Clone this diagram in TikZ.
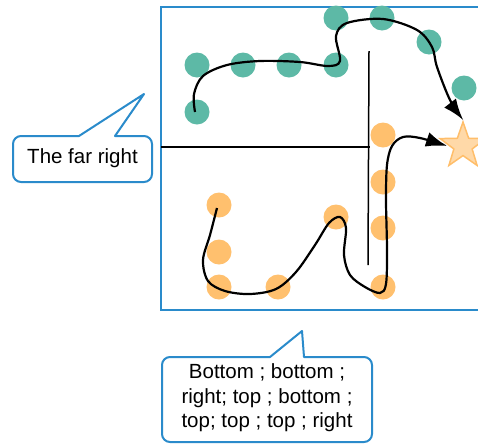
\documentclass[tikz,border=0pt]{standalone}
\usepackage{fontspec}
\setmainfont{Liberation Sans}
\usetikzlibrary{shapes.geometric,arrows.meta}
\definecolor{frameblue}{HTML}{2A8BCB}
\definecolor{teal}{HTML}{5DB9A6}
\definecolor{dotorange}{HTML}{FFC06E}
\definecolor{starfill}{HTML}{FFD9A8}
\definecolor{starline}{HTML}{FFBE6A}
\tikzset{
  gdot/.style={circle,fill=teal,inner sep=0pt,minimum size=25pt},
  odot/.style={circle,fill=dotorange,inner sep=0pt,minimum size=25pt},
  wall/.style={line width=1.5pt,black},
  route/.style={line width=2.2pt,black,-{Latex[length=21pt,width=15pt]}},
  callout/.style={draw=frameblue,line width=2pt,fill=white,line join=round},
  calltext/.style={font=\fontsize{20.5pt}{24.5pt}\selectfont,align=center,inner sep=0pt}
}
\begin{document}
\begin{tikzpicture}[x=1pt,y=-1pt]
\useasboundingbox (0,0) rectangle (478,445);
\begin{scope}
\clip (0,0) rectangle (478,445);
% frame
\draw[frameblue,line width=2pt] (161,7) rectangle (490,310);
% walls
\coordinate (h1) at (161,147);
\coordinate (h2) at (370,147);
\coordinate (v1) at (369,51);
\coordinate (v2) at (368,265);
\draw[wall] (h1) -- (h2);
\draw[wall] (v1) -- (v2);
% green dots
\node[gdot] (g1) at (197,112) {};
\node[gdot] (g2) at (197,65) {};
\node[gdot] (g3) at (243,65) {};
\node[gdot] (g4) at (289,65) {};
\node[gdot] (g5) at (336,65) {};
\node[gdot] (g6) at (336,18) {};
\node[gdot] (g7) at (382,18) {};
\node[gdot] (g8) at (429,42) {};
\node[gdot] (g9) at (464,88) {};
% orange dots
\node[odot] (o1) at (383,135) {};
\node[odot] (o2) at (219,205) {};
\node[odot] (o3) at (219,252) {};
\node[odot] (o4) at (219,287) {};
\node[odot] (o5) at (278,287) {};
\node[odot] (o6) at (336,217) {};
\node[odot] (o7) at (383,182) {};
\node[odot] (o8) at (383,228) {};
\node[odot] (o9) at (383,287) {};
% star
\node[star,star points=5,star point ratio=2.5,minimum size=48pt,inner sep=0pt,fill=starfill,draw=starline,line width=1.5pt] (goal) at (463,146) {};
% routes
\draw[route] plot[smooth,tension=0.55] coordinates {(195,112) (194,94) (203,76) (227,65) (260,61) (300,62) (328,66) (340,61) (336,36) (347,23) (383,19) (417,30) (432,47) (437,67) (450,100) (goal.north)};
\draw[route] plot[smooth,tension=0.55] coordinates {(217,208) (210,235) (203,260) (208,281) (225,291) (250,294) (276,289) (296,272) (315,245) (329,223) (340,217) (346,228) (344,255) (350,275) (365,287) (380,293) (386,284) (387,250) (386,200) (387,165) (392,146) (403,137) (420,138) (447,146)};
\end{scope}
% callout 1
\draw[callout] (79,136) [rounded corners=8pt] -- (13,136) -- (13,182) -- (152,182) -- (152,136) [sharp corners] -- (115,136) -- (144,94) -- cycle;
\node[calltext] (c1) at (82.5,158) {The far right};
% callout 2
\draw[callout] (270,357) [rounded corners=8pt] -- (162,357) -- (162,442) -- (372,442) -- (372,357) [sharp corners] -- (304,357) -- (302,331) -- cycle;
\node[calltext] (c2) at (267,398) {Bottom ; bottom ;\\right; top ; bottom ;\\top; top ; top ; right};
\end{tikzpicture}
\end{document}
